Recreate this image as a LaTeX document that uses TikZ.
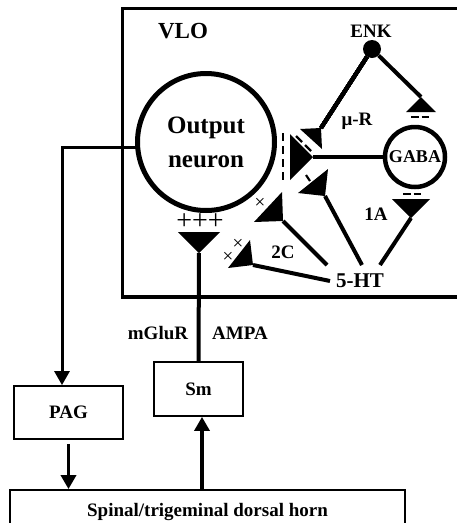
\documentclass[tikz,border=0pt]{standalone}
\usepackage{fontspec}
\setmainfont{Liberation Serif}
\usetikzlibrary{arrows.meta,calc,positioning}
\newcommand{\synterm}[2]{\fill (#1) -- ($(#2)!1!90:(#1)$) -- ($(#2)!1!-90:(#1)$) -- cycle;}

\begin{document}
\begin{tikzpicture}[x=1pt,y=-1pt,line cap=butt,
 lbl/.style={font=\bfseries\fontsize{19}{22}\selectfont,inner sep=0pt},
 areabox/.style={draw,line width=1.8pt,lbl},
 wire/.style={line width=4pt},
 arw/.style={line width=3.4pt,-{Triangle[length=14pt,width=15pt]}},
 inhib/.style={line width=2.2pt},
 excit/.style={font=\fontsize{19}{19}\selectfont,inner sep=0pt}]
\useasboundingbox (0,0) rectangle (456,523);
\draw[line width=3.4pt] (460,8.5) -- (122.5,8.5) -- (122.5,297) -- (460,297);
\node[lbl,font=\bfseries\fontsize{23}{26}\selectfont] (vlo) at (183,31) {VLO};
\node[draw,circle,line width=5pt,minimum size=137pt,lbl,align=center,
 font=\bfseries\fontsize{25}{34}\selectfont] (out) at (206,142) {Output\\neuron};
\node[draw,circle,line width=4.5pt,minimum size=60pt,lbl,
 font=\bfseries\fontsize{18}{20}\selectfont] (gaba) at (415,157) {GABA};
\node[circle,fill,minimum size=18pt,inner sep=0pt] (enk) at (372,49) {};
\node[lbl] (enklbl) at (371,31) {ENK};
\node[lbl] (mur) at (357,121) {μ-R};
\node[lbl] (ia) at (376,214) {1A};
\node[lbl] (iic) at (283,252) {2C};
\node[lbl,font=\bfseries\fontsize{21}{22}\selectfont] (ht) at (360,281) {5-HT};
\node[areabox,minimum width=109pt,minimum height=53pt] (pag) at (68.5,412.5) {PAG};
\node[areabox,minimum width=89pt,minimum height=54pt] (sm) at (198.5,389) {Sm};
\node[areabox,minimum width=395pt,minimum height=44pt] (dh) at (207.5,512)
 {\raisebox{5pt}{Spinal/trigeminal dorsal horn}};
\node[lbl] (mglur) at (158,333) {mGluR};
\node[lbl] (ampa) at (240,333) {AMPA};
\coordinate (muA) at (321,128); \coordinate (muM) at (311,139);
\coordinate (gtA) at (421,97); \coordinate (gtM) at (421,112);
\coordinate (cA) at (313,157); \coordinate (cM) at (290,157);
\coordinate (lA) at (325,196); \coordinate (lM) at (313,181);
\coordinate (gbA) at (411,218); \coordinate (gbM) at (411,199);
\coordinate (tcA) at (283,221); \coordinate (tcM) at (268,207);
\coordinate (xxA) at (253,265); \coordinate (xxM) at (239,254);
\coordinate (smA) at (199,253); \coordinate (smM) at (199,232);
\foreach \a/\m in {muA/muM,gtA/gtM,cA/cM,lA/lM,gbA/gbM,tcA/tcM,xxA/xxM,smA/smM}
 \synterm{\a}{\m}
\draw[wire] (enk) -- (muA);
\draw[wire] (enk) -- (gtA);
\draw[wire] (cA) -- (gaba);
\coordinate (ht1) at (327,265); \coordinate (ht2) at (362,265);
\coordinate (ht3) at (380,265); \coordinate (ht4) at (330,281);
\draw[wire] (lA) -- (ht2);
\draw[wire] (gbA) -- (ht3);
\draw[wire] (tcA) -- (ht1);
\draw[wire] (xxA) -- (ht4);
\draw[wire] (sm.north) -- (smA);
\draw[inhib,dash pattern=on 8pt off 5pt] (283,133) -- (283,183);
\draw[inhib,dash pattern=on 7.5pt off 3pt] (411,117) -- (429,117);
\draw[inhib,dash pattern=on 7.5pt off 3pt] (403,194) -- (421,194);
\draw[inhib] (296,136) -- (302,142) (305,145) -- (311,151);
\draw[inhib] (306,175) -- (310,181);
\node[excit] (x1) at (260,203) {×};
\node[excit] (x2) at (228,257) {×};
\node[excit] (x3) at (238,244) {×};
\node[font=\fontsize{28}{28}\selectfont,inner sep=0pt] (plus) at (200,222) {+++};
\coordinate (bend) at (62,147); \coordinate (oA) at (138,147);
\draw[line width=3pt,-{Triangle[length=14pt,width=15pt]}] (oA) -- (bend) -- (bend |- pag.north);
\draw[arw,shorten <=4pt] (pag.south) -- (pag.south |- dh.north);
\coordinate (up) at (202,490);
\draw[arw] (up) -- (up |- sm.south);
\end{tikzpicture}
\end{document}
